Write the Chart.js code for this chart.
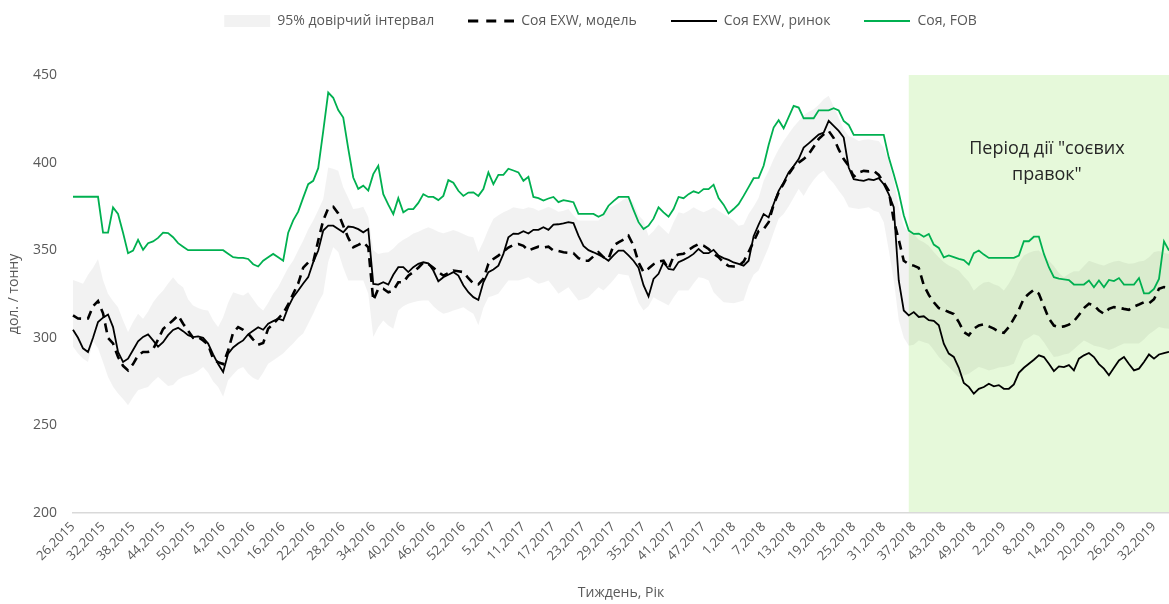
<!DOCTYPE html>
<html lang="uk">
<head>
<meta charset="utf-8">
<title>Соя EXW / FOB</title>
<script src="https://cdn.jsdelivr.net/npm/chart.js@4.4.1/dist/chart.umd.min.js"></script>
<style>
  html, body { margin: 0; padding: 0; background: #fff; }
  #wrap { width: 1169px; height: 604px; }
</style>
</head>
<body>
<div id="wrap"><canvas id="chart" width="1169" height="604"></canvas></div>
<script>
// тижні: перший тиждень ряду і кількість тижнів у кожному році
const firstWeek = 26;
const firstYear = 2015;
const weeksInYear = { 2015: 52, 2016: 53, 2017: 52, 2018: 53, 2019: 52 };
const labelEvery = 6;

// Соя, FOB
const fob = [
  380.5, 380.5, 380.5, 380.5, 380.5, 380.5, 360, 360, 374.4, 370.7,
  360, 348.3, 349.8, 355.9, 350.2, 354, 355, 357, 360, 359.8,
  357.4, 354, 352, 350, 350, 350, 350, 350, 350, 350,
  350, 348, 346, 345.6, 345.6, 345, 342, 340.7, 344, 346,
  347.9, 346, 344, 360, 367, 372, 380, 387.7, 389.6, 396.8,
  418, 440, 437, 430, 425.7, 408, 391.5, 385, 386.8, 384,
  393.4, 398.2, 382, 376, 370.6, 379.7, 371.6, 373.5, 373.5, 377,
  382, 380.4, 380.4, 378.6, 381, 390, 388.5, 383.9, 381, 382.9,
  383, 381, 384.9, 394.4, 387.7, 393, 393, 396.5, 395.5, 394.4,
  389.6, 391.9, 380.4, 379.7, 378.3, 379.5, 380.4, 377.4, 378.6, 378,
  377.4, 370.7, 370.7, 370.7, 370.7, 369.1, 370.5, 375.4, 378, 380.4,
  380.4, 380.4, 373, 366, 362.1, 364, 368, 374.5, 371.6, 369.1,
  373.5, 380.4, 379.7, 382, 383.6, 382.6, 384.9, 384.9, 387.4, 379.7,
  376, 371, 373.5, 376.3, 381, 386, 391.1, 391.3, 398.2, 410,
  420, 424.2, 419.6, 426, 432.4, 431.4, 425.3, 425.3, 425.3, 429.8,
  429.8, 429.8, 431, 429.8, 423.8, 421.5, 415.8, 415.8, 415.8, 415.8,
  415.8, 415.8, 415.8, 403, 393.4, 383, 370, 361.2, 359.3, 359.5,
  357.7, 359.3, 353.2, 351.3, 345.9, 347, 346, 345, 344.4, 341.8,
  348.3, 349.8, 347.5, 345.6, 345.6, 345.6, 345.6, 345.6, 345.6, 346.9,
  355.1, 355.1, 357.7, 357.7, 347.9, 340.3, 334.6, 333.8, 333.4, 333,
  330.4, 330.4, 330.4, 332.7, 328.9, 332.7, 328.9, 333, 332.4, 334.1,
  330.4, 330.4, 330.4, 334.1, 325.4, 325.4, 327.9, 333.6, 355.1, 349.8
];

// Соя EXW, ринок
const market = [
  304.6, 300, 294, 291.9, 300, 309, 311.5, 313.3, 306.1, 291.9,
  286.2, 288.1, 293, 298, 300.5, 301.9, 298.5, 294.9, 297.5, 301.5,
  304.5, 305.7, 303.8, 301.5, 300.4, 300.8, 300, 296.7, 290.5, 285,
  280.5, 291, 294.5, 296.7, 298.5, 302, 304, 306, 304.6, 308.1,
  309.5, 310.9, 310, 317.5, 323.2, 327, 331, 334.6, 343.2, 349.8,
  361.2, 364, 364, 362.1, 360.2, 363.5, 363.2, 362, 360.2, 362.1,
  330.8, 330.4, 331.7, 330.4, 336, 340.3, 340.3, 337.5, 340.3, 342.2,
  343.1, 342.5, 338.4, 332.3, 334.6, 336, 337.5, 335.5, 330, 326,
  323.2, 321.6, 331.7, 337.5, 339, 341.2, 347.9, 357.4, 359.5, 359.3,
  360.8, 359.5, 361.6, 361.6, 363.1, 361.6, 364.6, 364.8, 365.3, 366,
  365.5, 358.3, 352.5, 350, 348.8, 347.5, 346, 344, 347, 349.8,
  349.8, 347, 344, 340, 330, 323.6, 333.6, 336.5, 343.2, 339.3,
  338.8, 343.2, 344.5, 346, 347.9, 350.7, 348.3, 348.3, 350.2, 346.9,
  345.5, 344.5, 343, 342.2, 341.2, 344, 358, 364.6, 370.6, 368.7,
  376.4, 383.9, 388.7, 394.4, 398, 402, 408.6, 411, 413.5, 416,
  417.1, 423.8, 421, 418.1, 414.3, 397.2, 390.5, 390, 389.6, 390.5,
  390, 391.1, 387.7, 382, 374.5, 332.7, 315.6, 312.8, 314.7, 311.9,
  312.3, 310.1, 309.7, 307.1, 296.6, 291, 289.1, 282.9, 274.2, 272,
  268.1, 270.9, 271.9, 273.8, 272.3, 273, 270.9, 270.9, 273.4, 280,
  282.9, 285.2, 287.5, 290, 289, 285.2, 281, 283.7, 283.3, 284.4,
  281.4, 288.1, 290, 291.3, 289, 285, 282.4, 278.6, 282.9, 287.1,
  289, 285, 281.4, 282.4, 286.2, 290.5, 288.1, 290.5, 291.3, 292
];

// Соя EXW, модель
const model = [
  312.8, 311, 310.9, 311, 318, 321, 314, 300, 296.8, 289,
  284, 281.4, 285, 290, 291.9, 291.9, 293.5, 299, 305, 307.5,
  310, 312.8, 308, 304, 300, 300.5, 298.5, 296, 288, 286,
  285, 292.8, 303, 306.1, 304.6, 302.4, 299, 296, 297, 305.2,
  308, 311, 314, 319, 325.1, 331, 340, 343, 343.2, 355.5,
  367, 374, 374.8, 371, 364, 357, 351.7, 353, 354.5, 351.7,
  321.3, 328, 328, 326, 327, 331.7, 331.7, 335.5, 337.5, 340,
  343, 342.2, 340, 337.5, 335.5, 337, 338.4, 338, 337.5, 334,
  331, 330.5, 333.6, 342.2, 345, 346.9, 349.2, 351.5, 353, 353.5,
  352.5, 349.8, 351, 352, 351.5, 352, 349.8, 349.5, 348.8, 348.5,
  348.3, 345.5, 344, 344, 346.5, 348.8, 346, 345, 352.6, 354.5,
  356, 358.3, 352.6, 343, 337.5, 339.5, 342, 343.5, 344, 339.3,
  346.5, 347.5, 347.9, 350.2, 352, 353.5, 352.6, 350.7, 347.9, 346,
  343, 341, 340.7, 341, 343.5, 349, 355, 361, 362, 366,
  376, 383, 388, 393.4, 397.5, 400, 402, 404.8, 409, 413.5,
  416.1, 418.1, 414, 407.5, 402, 398.2, 392, 394.4, 395.3, 395,
  395.3, 393, 388.5, 384, 367, 356, 344, 342, 341.2, 339.9,
  330, 324.5, 320.3, 317, 316, 314.7, 313.5, 309, 303.3, 301.4,
  305.2, 307.1, 307.7, 306.5, 305.2, 303.5, 302.8, 306.1, 310.9, 316,
  322.5, 325.1, 327.4, 325.1, 318, 311, 307, 306.1, 306.5, 307.5,
  309.5, 313, 317, 319.4, 318.5, 315.6, 313.7, 316.5, 317.5, 317.1,
  316.5, 316, 317.8, 319, 320.3, 319.7, 322, 328, 329, 328.5
];

// 95% довірчий інтервал, верхня межа
const ciHigh = [
  333, 332, 330.8, 336, 340, 345, 333, 325.1, 321, 317.5,
  310, 303.3, 309, 313.7, 310.9, 315, 320.3, 324, 327, 331,
  334.6, 331, 328.9, 322, 318.5, 317, 316, 315.6, 310, 306.1,
  311.8, 320, 326, 325, 324.2, 326, 322, 318, 315.6, 320,
  325.1, 329, 334.6, 340, 344.1, 350, 355.5, 362, 366.9, 373,
  379.2, 397.2, 396.5, 395.3, 385.9, 380, 373.5, 374, 374.8, 369,
  350, 347.9, 348.5, 348.8, 351, 354, 355.9, 357.5, 359.5, 360.5,
  362, 363.1, 362, 360.5, 359.7, 360.5, 361.6, 360.5, 359.3, 358,
  357.4, 349, 355, 362, 368, 370, 371.6, 373, 374.5, 374,
  373.5, 374.5, 374, 372.5, 373.5, 374.8, 373.5, 372, 372.5, 373.5,
  370, 367, 366.9, 366.9, 366.9, 367, 370, 374, 375.4, 377,
  379, 380.5, 377, 370, 366.9, 358.3, 361, 364.6, 362, 359.3,
  366, 371.6, 371, 372.5, 374.5, 373, 371.6, 373, 374.5, 372.5,
  370.7, 369, 366.9, 364, 364.6, 370.7, 375, 380, 389.6, 395.3,
  402, 407.6, 412.4, 416.5, 420.5, 423.8, 427, 429, 430.5, 433,
  436.2, 438.1, 432, 425.7, 419, 415.2, 414, 412.4, 413, 413.3,
  412.8, 412.4, 408.6, 401, 390, 375, 364, 360, 359.3, 356,
  354.5, 352.6, 349, 346, 343.2, 341.2, 340, 338.4, 335, 332,
  327, 329.5, 331.5, 332, 330.5, 329.5, 327, 331, 336, 343,
  347, 348.5, 349.5, 349.8, 347, 344, 341, 337, 334.6, 336.5,
  338, 338, 341, 344, 343, 342, 341.2, 342.5, 343.5, 344,
  343, 342.2, 342.5, 343.5, 344, 346, 349, 349.5, 348.5, 347.9
];

// 95% довірчий інтервал, нижня межа
const ciLow = [
  294.9, 291, 288, 286.2, 298, 294, 286, 277.6, 272, 268.2,
  265, 261.5, 266, 270, 271, 271.9, 275, 277.6, 275, 272.5,
  273, 276, 277.6, 278.5, 279.5, 281, 283.3, 280, 275, 271.9,
  266.3, 275.7, 279, 282, 283.3, 279.5, 277, 275.7, 280, 285.2,
  287, 289, 291, 294, 296.7, 300, 302.4, 308, 313.7, 320,
  325.1, 343.2, 351.7, 349, 340, 332.7, 332.7, 332.7, 332.7, 325.1,
  300.4, 306, 309.9, 307, 305.2, 315.6, 318, 319.5, 320.3, 321,
  321.3, 321.3, 318, 315.5, 313.7, 314.5, 315.6, 316.5, 317.5, 315.5,
  313.7, 307.1, 317, 323.2, 324, 325.1, 329, 332.7, 332.7, 332.7,
  333.5, 334.6, 332.5, 330.8, 331.5, 332.7, 329, 325.1, 327, 328.9,
  325, 321.3, 322, 323.2, 326, 328.9, 327, 329.8, 333, 336.5,
  336, 335.5, 328, 320, 315.6, 318, 323.2, 321.5, 320, 318.5,
  323, 327, 327, 327, 331, 334.6, 334, 332.7, 326, 323,
  320.3, 320, 319.7, 320.5, 321.3, 330, 336, 338.4, 345, 351.7,
  360, 368, 370.7, 375, 380, 384.9, 381, 386, 390, 393.4,
  395.3, 391, 388, 384, 380.2, 374.5, 374, 373.5, 374, 374.5,
  372.5, 371.6, 366, 350, 332.7, 310, 300, 295.5, 296, 298.5,
  297.5, 296.6, 293, 289, 286, 283.3, 280.5, 277.6, 278.5, 279.5,
  281.5, 283.3, 282.5, 281.4, 282, 283, 283.3, 284, 285.2, 292,
  298.5, 300, 302, 301, 297.5, 293, 289, 289.5, 290.5, 291,
  293.5, 296, 298.5, 297, 295.5, 294.9, 294, 293, 294, 295.5,
  296.7, 296.7, 296.7, 296.7, 299, 302, 304, 306.1, 305.5, 305.2
];

// період дії "соєвих правок" починається з цього індексу тижня
const periodStartIndex = 167;
const periodText = ['Період дії "соєвих', 'правок"'];

// підписи тижнів "тиждень,рік"
const weekLabels = [];
let wk = firstWeek, yr = firstYear;
for (let i = 0; i < fob.length; i++) {
    weekLabels.push(wk + ',' + yr);
    wk++;
    if (wk > weeksInYear[yr]) { wk = 1; yr++; }
}

const GRAY_TEXT = '#595959';
Chart.defaults.font.family = '"Open Sans", "Noto Sans", sans-serif';
Chart.defaults.color = GRAY_TEXT;

// зразок лінії для легенди (щоб пунктир було видно)
function legendLine(color, width, dash) {
    const c = document.createElement('canvas');
    c.width = 46;
    c.height = 6;
    const g = c.getContext('2d');
    g.strokeStyle = color;
    g.lineWidth = width;
    g.setLineDash(dash || []);
    g.beginPath();
    g.moveTo(0, 3);
    g.lineTo(46, 3);
    g.stroke();
    return c;
}

// зелена зона періоду + підпис
const periodBox = {
    id: 'periodBox',
    beforeDraw(chart) {
        const { ctx, chartArea, scales } = chart;
        const left = scales.x.getPixelForValue(periodStartIndex);
        ctx.save();
        ctx.fillStyle = '#e6f9da';
        ctx.fillRect(left, chartArea.top, chartArea.right - left, chartArea.bottom - chartArea.top);
        ctx.fillStyle = '#262626';
        ctx.font = '18px "Open Sans", "Noto Sans", sans-serif';
        ctx.textAlign = 'center';
        ctx.textBaseline = 'middle';
        const cx = left + (chartArea.right - left) / 2 + 8;
        ctx.fillText(periodText[0], cx, 149);
        ctx.fillText(periodText[1], cx, 175);
        ctx.restore();
    }
};

// легенду піднімаємо вгору, а площу графіка лишаємо нижче
const legendShift = {
    id: 'legendShift',
    afterLayout(chart) {
        const lg = chart.legend;
        if (!lg) return;
        lg.top -= 37; lg.bottom -= 37;
        lg.left += 16; lg.right += 16;
    }
};

new Chart(document.getElementById('chart'), {
    type: 'line',
    data: {
        labels: weekLabels,
        datasets: [
            {
                label: '95% довірчий інтервал',
                data: ciHigh,
                borderWidth: 0,
                borderColor: 'rgba(0,0,0,0)',
                backgroundColor: 'rgba(0,0,0,0.05)',
                fill: '+1',
                pointStyle: 'rect',
            },
            {
                label: '',
                data: ciLow,
                borderWidth: 0,
                borderColor: 'rgba(0,0,0,0)',
                fill: false,
            },
            {
                label: 'Соя EXW, модель',
                data: model,
                borderColor: '#000000',
                backgroundColor: '#000000',
                borderWidth: 2.6,
                borderDash: [9, 6],
                pointStyle: legendLine('#000000', 3, [10, 8]),
            },
            {
                label: 'Соя EXW, ринок',
                data: market,
                borderColor: '#000000',
                backgroundColor: '#000000',
                borderWidth: 1.8,
                pointStyle: legendLine('#000000', 2),
            },
            {
                label: 'Соя, FOB',
                data: fob,
                borderColor: '#00b050',
                backgroundColor: '#00b050',
                borderWidth: 1.8,
                pointStyle: legendLine('#00b050', 2),
            },
        ],
    },
    options: {
        responsive: false,
        animation: false,
        devicePixelRatio: 1,
        layout: { padding: { top: 17, left: 0, right: 0, bottom: 0 } },
        elements: {
            point: { radius: 0, hoverRadius: 0 },
            line: { tension: 0 },
        },
        plugins: {
            filler: { drawTime: 'beforeDatasetsDraw' },
            tooltip: { enabled: false },
            legend: {
                display: true,
                position: 'top',
                labels: {
                    usePointStyle: true,
                    pointStyleWidth: 46,
                    boxHeight: 12,
                    padding: 34,
                    color: GRAY_TEXT,
                    font: { size: 14 },
                    filter: (item) => item.text !== '',
                },
            },
        },
        scales: {
            x: {
                type: 'category',
                offset: false,
                grid: { display: false, drawTicks: false },
                border: { display: true, color: '#d9d9d9', width: 1.5 },
                ticks: {
                    autoSkip: false,
                    minRotation: 45,
                    maxRotation: 45,
                    padding: 6,
                    color: GRAY_TEXT,
                    font: { size: 13 },
                    callback: (val, i) => (i % labelEvery === 0 ? weekLabels[i] : ''),
                },
                title: {
                    display: true,
                    text: 'Тиждень, Рік',
                    color: GRAY_TEXT,
                    font: { size: 14 },
                    padding: { top: 0, bottom: 3 },
                },
                afterFit(scale) {
                    scale.height = 91;
                    scale.paddingLeft = 0;
                    scale.paddingRight = 0;
                },
            },
            y: {
                min: 200,
                max: 450,
                grid: { display: false, drawTicks: false },
                border: { display: false },
                ticks: {
                    stepSize: 50,
                    padding: 16,
                    color: GRAY_TEXT,
                    font: { size: 14 },
                },
                title: {
                    display: true,
                    text: 'дол. / тонну',
                    color: GRAY_TEXT,
                    font: { size: 14 },
                    padding: { top: 6, bottom: 0 },
                },
                afterFit(scale) {
                    scale.width = 73;
                },
            },
        },
    },
    plugins: [periodBox, legendShift],
});
</script>
</body>
</html>
